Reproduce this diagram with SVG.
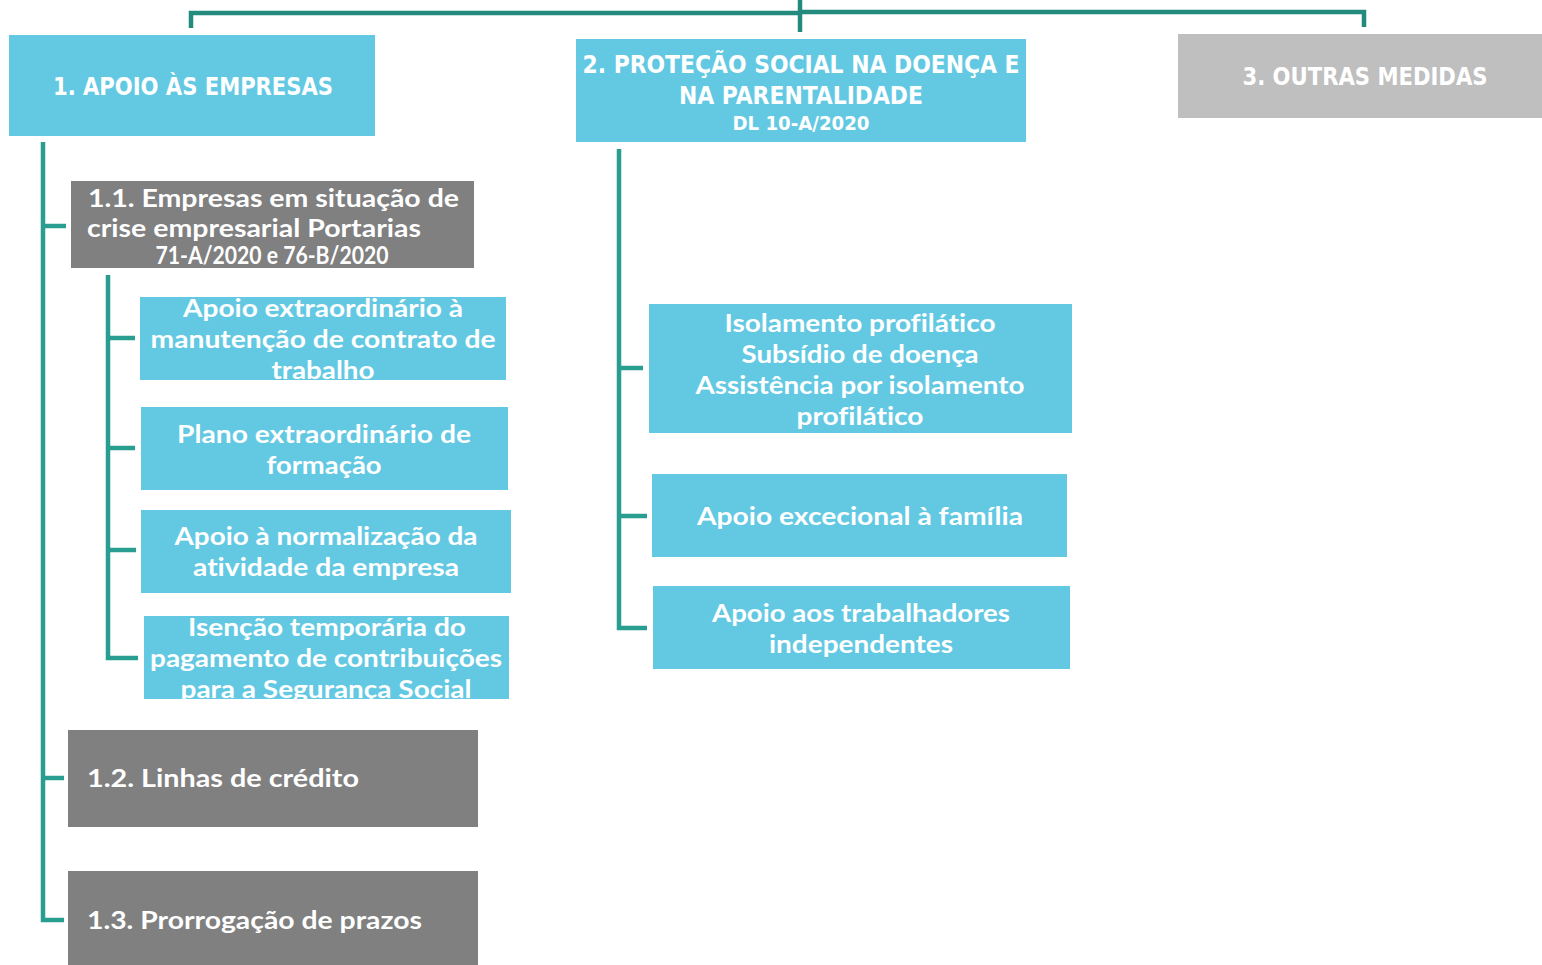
<svg xmlns="http://www.w3.org/2000/svg" width="1542" height="965" viewBox="0 0 1542 965">
<style>
.cy{fill:#63c9e3}
.gr{fill:#808080}
.lg{fill:#bfbfbf}
.hd{font-family:"DejaVu Sans Condensed","Liberation Sans Narrow","Liberation Sans",sans-serif;font-weight:bold;fill:#fff;text-anchor:middle}
.t{font-family:Lato,"Open Sans",sans-serif;font-weight:bold;font-size:24px;fill:#fff;text-anchor:middle;font-variant-ligatures:none}
.tl{font-family:Lato,"Open Sans",sans-serif;font-weight:bold;font-size:24px;fill:#fff;font-variant-ligatures:none}
.c{fill:none;stroke:#2a9d91;stroke-width:4.5;stroke-linejoin:miter}
.ct{fill:none;stroke:#238a7e;stroke-width:4.5}
</style>
<defs>
<clipPath id="clA"><rect x="140" y="297" width="366" height="83"/></clipPath>
<clipPath id="clD"><rect x="144" y="616" width="365" height="83"/></clipPath>
</defs>
<g id="connectors">
<path class="ct" d="M191 28 V13 H800 M800 0 V32 M800 12 H1364 V27"/>
<path class="c" d="M43 142 V920 H64 M43 226 H66 M43 778 H64"/>
<path class="c" d="M108 275 V658 H138 M108 338 H135 M108 448 H135 M108 550 H136"/>
<path class="c" d="M619 149 V628 H647 M619 368 H643 M619 516 H647"/>
</g>
<g id="n1">
<rect class="cy" x="9" y="35" width="366" height="101"/>
<text class="hd" x="193" y="95" font-size="25" textLength="280" lengthAdjust="spacingAndGlyphs">1. APOIO ÀS EMPRESAS</text>
</g>
<g id="n2">
<rect class="cy" x="576" y="39" width="450" height="103"/>
<text class="hd" x="801" y="73" font-size="25" textLength="437" lengthAdjust="spacingAndGlyphs">2. PROTEÇÃO SOCIAL NA DOENÇA E</text>
<text class="hd" x="801" y="104" font-size="25" textLength="244" lengthAdjust="spacingAndGlyphs">NA PARENTALIDADE</text>
<text class="hd" x="801" y="130" font-size="19" textLength="137" lengthAdjust="spacingAndGlyphs">DL 10-A/2020</text>
</g>
<g id="n3">
<rect class="lg" x="1178" y="34" width="364" height="84"/>
<text class="hd" x="1365" y="85" font-size="25" textLength="245" lengthAdjust="spacingAndGlyphs">3. OUTRAS MEDIDAS</text>
</g>
<g id="n11">
<rect class="gr" x="71" y="181" width="403" height="87"/>
<text class="tl" x="88" y="207" textLength="371" lengthAdjust="spacingAndGlyphs">1.1. Empresas em situação de</text>
<text class="tl" x="87" y="237" textLength="334" lengthAdjust="spacingAndGlyphs">crise empresarial Portarias</text>
<text class="t" x="272" y="264" font-size="19" textLength="233" lengthAdjust="spacingAndGlyphs">71-A/2020 e 76-B/2020</text>
</g>
<g id="n111">
<rect class="cy" x="140" y="297" width="366" height="83"/>
<g clip-path="url(#clA)">
<text class="t" x="323" y="317" textLength="280" lengthAdjust="spacingAndGlyphs">Apoio extraordinário à</text>
<text class="t" x="323" y="348" textLength="345" lengthAdjust="spacingAndGlyphs">manutenção de contrato de</text>
<text class="t" x="323" y="379" textLength="103" lengthAdjust="spacingAndGlyphs">trabalho</text>
</g>
</g>
<g id="n112">
<rect class="cy" x="141" y="407" width="367" height="83"/>
<text class="t" x="324" y="443" textLength="294" lengthAdjust="spacingAndGlyphs">Plano extraordinário de</text>
<text class="t" x="324" y="474" textLength="115" lengthAdjust="spacingAndGlyphs">formação</text>
</g>
<g id="n113">
<rect class="cy" x="141" y="510" width="370" height="83"/>
<text class="t" x="326" y="545" textLength="303" lengthAdjust="spacingAndGlyphs">Apoio à normalização da</text>
<text class="t" x="326" y="576" textLength="266" lengthAdjust="spacingAndGlyphs">atividade da empresa</text>
</g>
<g id="n114">
<rect class="cy" x="144" y="616" width="365" height="83"/>
<g clip-path="url(#clD)">
<text class="t" x="327" y="636" textLength="278" lengthAdjust="spacingAndGlyphs">Isenção temporária do</text>
<text class="t" x="326" y="667" textLength="352" lengthAdjust="spacingAndGlyphs">pagamento de contribuições</text>
<text class="t" x="326" y="698" textLength="291" lengthAdjust="spacingAndGlyphs">para a Segurança Social</text>
</g>
</g>
<g id="n12">
<rect class="gr" x="68" y="730" width="410" height="97"/>
<text class="tl" x="87" y="787" textLength="272" lengthAdjust="spacingAndGlyphs">1.2. Linhas de crédito</text>
</g>
<g id="n13">
<rect class="gr" x="68" y="871" width="410" height="94"/>
<text class="tl" x="87" y="929" textLength="335" lengthAdjust="spacingAndGlyphs">1.3. Prorrogação de prazos</text>
</g>
<g id="n21">
<rect class="cy" x="649" y="304" width="423" height="129"/>
<text class="t" x="860" y="332" textLength="271" lengthAdjust="spacingAndGlyphs">Isolamento profilático</text>
<text class="t" x="860" y="363" textLength="237" lengthAdjust="spacingAndGlyphs">Subsídio de doença</text>
<text class="t" x="860" y="394" textLength="329" lengthAdjust="spacingAndGlyphs">Assistência por isolamento</text>
<text class="t" x="860" y="425" textLength="127" lengthAdjust="spacingAndGlyphs">profilático</text>
</g>
<g id="n22">
<rect class="cy" x="652" y="474" width="415" height="83"/>
<text class="t" x="860" y="525" textLength="326" lengthAdjust="spacingAndGlyphs">Apoio excecional à família</text>
</g>
<g id="n23">
<rect class="cy" x="653" y="586" width="417" height="83"/>
<text class="t" x="861" y="622" textLength="298" lengthAdjust="spacingAndGlyphs">Apoio aos trabalhadores</text>
<text class="t" x="861" y="653" textLength="184" lengthAdjust="spacingAndGlyphs">independentes</text>
</g>
</svg>
